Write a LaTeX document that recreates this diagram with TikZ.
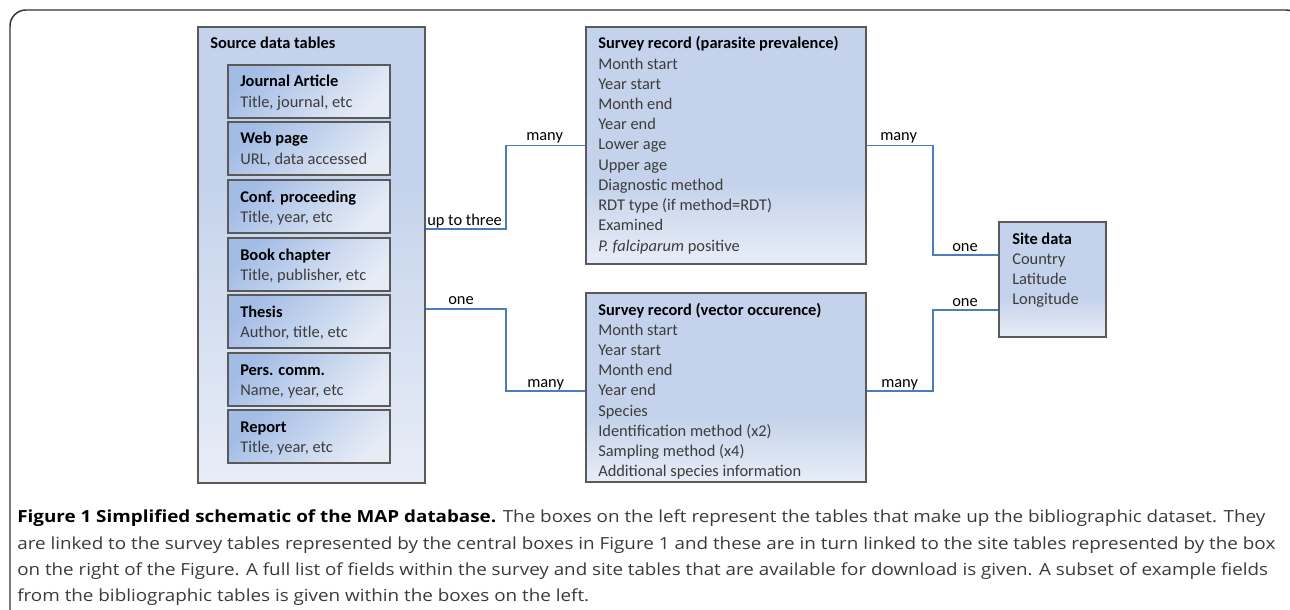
\documentclass[tikz,border=0pt]{standalone}
\usepackage{fontspec}
\usepackage{graphicx}
\setmainfont{Carlito}
\newfontfamily\capfont{Open Sans}
\usetikzlibrary{fit}
\definecolor{boxbase}{HTML}{C4D3EB}
\definecolor{boxlite}{HTML}{E8EDF7}
\definecolor{innerdark}{HTML}{A3BCE5}
\definecolor{innerlite}{HTML}{E6ECF6}
\definecolor{edgegray}{HTML}{5A5A5A}
\definecolor{connblue}{HTML}{4A7EBB}
\definecolor{bodytxt}{HTML}{3C3C3C}
\definecolor{captxt}{HTML}{3A3A3A}
\pgfdeclareverticalshading{tablefade}{100bp}{color(0bp)=(boxlite); color(25bp)=(boxlite); color(42bp)=(boxbase); color(100bp)=(boxbase)}
\pgfdeclareverticalshading{srcfade}{100bp}{color(0bp)=(boxlite); color(25bp)=(boxlite); color(58bp)=(boxbase); color(100bp)=(boxbase)}
\newcommand\mapcapA{{\bfseries\color{black}Figure 1 Simplified schematic of the MAP database.} The boxes on the left represent the tables that make up the bibliographic dataset. They}
\newcommand\mapcapB{are linked to the survey tables represented by the central boxes in Figure 1 and these are in turn linked to the site tables represented by the box}
\newcommand\mapcapC{on the right of the Figure. A full list of fields within the survey and site tables that are available for download is given. A subset of example fields}
\newcommand\mapcapD{from the bibliographic tables is given within the boxes on the left.}
\newcommand\mapcapfont{\capfont\fontsize{12.5}{15}\selectfont\color{captxt}}
\newsavebox\mapcapbox
\AtBeginDocument{\sbox\mapcapbox{\mapcapfont\mapcapA}}
\tikzset{
  tablebox/.style={draw=edgegray, line width=0.8pt, shade, shading=tablefade, inner sep=0pt, rectangle},
  srcbox/.style={draw=edgegray, line width=0.8pt, shade, shading=srcfade, inner sep=0pt, rectangle},
  innerbox/.style={draw=edgegray, line width=0.8pt, shading=axis, top color=innerdark, bottom color=innerlite, shading angle=45, inner sep=0pt, rectangle},
  ttl/.style={anchor=base west, inner sep=0pt, font=\fontsize{12.3}{14}\selectfont\bfseries, text=black},
  body/.style={anchor=base west, inner sep=0pt, font=\fontsize{12.3}{14}\selectfont, text=bodytxt},
  lbl/.style={anchor=base west, inner sep=0pt, font=\fontsize{12.3}{14}\selectfont, text=black},
  conn/.style={draw=connblue, line width=1.1pt},
  capline/.style={anchor=base west, inner sep=0pt}
}
\begin{document}
\begin{tikzpicture}[x=0.75pt, y=-0.75pt]
\useasboundingbox (0,0) rectangle (1290,610);
% frame
\draw[line width=1.1pt, draw=black!80, rounded corners=12] (10,660) -- (10,10) -- (1302,10) -- (1302,660);

% source tables
\node[srcbox, fit={(198,27) (425,483)}] (src) {};
\node[ttl] (srct) at (210,49) {Source data tables};
\foreach \t/\ti/\su [count=\k] in {65/Journal Article/{Title, journal, etc},
  122/Web page/{URL, data accessed},
  180/Conf. proceeding/{Title, year, etc},
  238/Book chapter/{Title, publisher, etc},
  295/Thesis/{Author, title, etc},
  353/Pers. comm./{Name, year, etc},
  410/Report/{Title, year, etc}} {
  \node[innerbox, fit={(228,\t) (390,{\t+53})}] (sb\k) {};
  \node[ttl] (sbt\k) at (240,{\t+22}) {\ti};
  \node[body] (sbs\k) at (240,{\t+42.5}) {\su};
}

% parasite survey
\node[tablebox, fit={(586,27) (866,264)}] (par) {};
\node[ttl] (part) at (598,49) {Survey record (parasite prevalence)};
\foreach \l [count=\k] in {Month start, Year start, Month end, Year end, Lower age, Upper age, Diagnostic method, RDT type (if method=RDT), Examined, {\textit{P. falciparum} positive}} {
  \node[body] (pl\k) at (598,{49+20.2*\k}) {\l};
}

% vector survey
\node[tablebox, fit={(586,293) (866,482)}] (vec) {};
\node[ttl] (vect) at (598,315) {Survey record (vector occurence)};
\foreach \l [count=\k] in {Month start, Year start, Month end, Year end, Species, Identification method (x2), Sampling method (x4), Additional species information} {
  \node[body] (vl\k) at (598,{315+20.2*\k}) {\l};
}

% site
\node[tablebox, fit={(999,222) (1106,337)}] (site) {};
\node[ttl] (sitet) at (1012,244) {Site data};
\foreach \l [count=\k] in {Country, Latitude, Longitude} {
  \node[body] (sl\k) at (1012,{244+20.3*\k}) {\l};
}

% connector helper coordinates
\coordinate (yA) at (0,229);
\coordinate (yB) at (0,309);
\coordinate (yC) at (0,391);
\coordinate (yD) at (0,255);
\coordinate (yE) at (0,310);
\coordinate (bendL) at (506,0);
\coordinate (bendR) at (933,0);

\draw[conn] (src.east |- yA) -| (bendL |- par.west) -- (par.west);
\draw[conn] (src.east |- yB) -| (bendL |- yC) -- (vec.west |- yC);
\draw[conn] (par.east) -| (bendR |- yD) -- (site.west |- yD);
\draw[conn] (vec.east |- yC) -| (bendR |- yE) -- (site.west |- yE);

% labels
\node[lbl] (l1) at (427,225) {up to three};
\node[lbl] (l2) at (526,141) {many};
\node[lbl] (l3) at (448,304) {one};
\node[lbl] (l4) at (527,387) {many};
\node[lbl] (l5) at (880,141) {many};
\node[lbl] (l6) at (952,251) {one};
\node[lbl] (l7) at (952,306) {one};
\node[lbl] (l8) at (881,387) {many};

% caption
\pgfmathsetmacro\mapratio{936/\wd\mapcapbox}
\node[capline] (cap1) at (17,522) {\resizebox{936pt}{\height}{\mapcapfont\mapcapA}};
\node[capline] (cap2) at (17,549) {\resizebox{943.5pt}{\height}{\mapcapfont\mapcapB}};
\node[capline] (cap3) at (17,575) {\resizebox{938pt}{\height}{\mapcapfont\mapcapC}};
\node[capline] (cap4) at (17,601) {\scalebox{\mapratio}[1]{\mapcapfont\mapcapD}};
\end{tikzpicture}
\end{document}
